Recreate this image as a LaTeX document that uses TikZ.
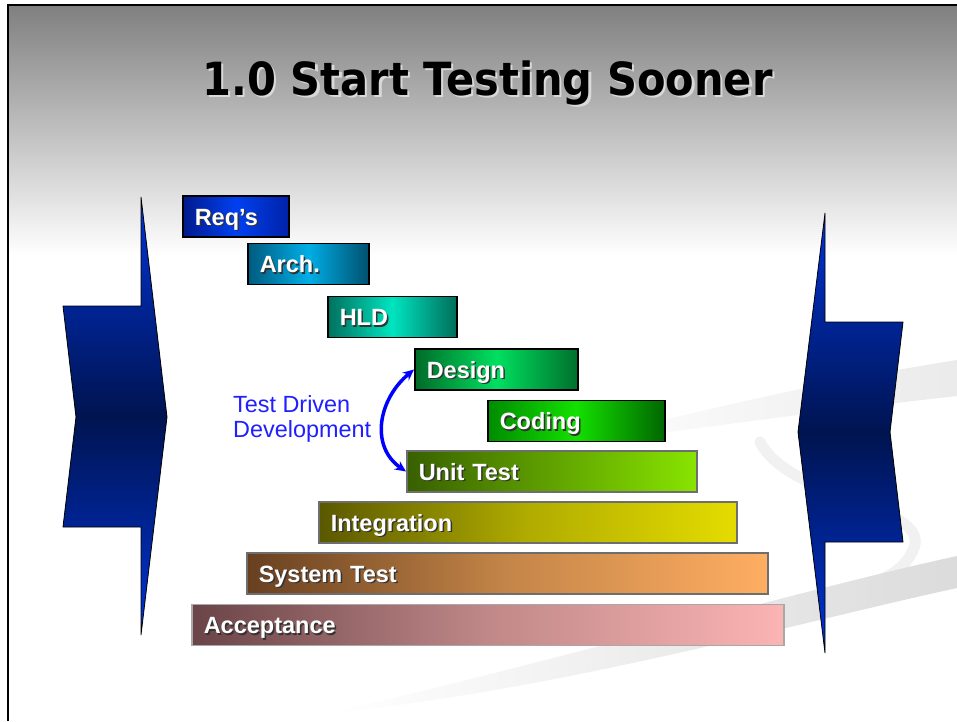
\documentclass[tikz,border=0pt]{standalone}
\usepackage{fontspec}
\setmainfont{Liberation Sans}
\newfontfamily\titlefont{DejaVu Sans}[FakeStretch=0.91]
\usetikzlibrary{arrows.meta}

\definecolor{chevlight}{HTML}{0033D8}
\definecolor{chevdark}{HTML}{001450}
\definecolor{tddblue}{HTML}{1F1FFF}
\definecolor{tddarrow}{HTML}{0000FF}
\definecolor{darkrim}{HTML}{6E6E6E}
\definecolor{lightrim}{HTML}{A8A8A8}

% text with a drop shadow: #1 shadow colour, #2 offset, #3 text
\newcommand\shadowed[3]{\makebox[0pt][l]{\color{#1}\raisebox{-#2}{\hspace*{#2}#3}}#3}

\tikzset{%
  every phase/.style={
    draw,
    line width=1.5pt,
    anchor=west,
    minimum height=41pt,
    inner xsep=12pt,
    inner ysep=0pt,
    align=left,
    text height=17pt,
    text depth=0pt,
    text=white,
    font=\fontsize{23.5}{24}\selectfont\bfseries
  },
  phase req/.style={left color={rgb,255:red,0;green,26;blue,140}, right color={rgb,255:red,0;green,34;blue,168}, middle color={rgb,255:red,0;green,64;blue,240}},
  phase arch/.style={left color={rgb,255:red,0;green,90;blue,126}, right color={rgb,255:red,0;green,80;blue,110}, middle color={rgb,255:red,0;green,174;blue,230}},
  phase hld/.style={left color={rgb,255:red,0;green,112;blue,94}, right color={rgb,255:red,0;green,110;blue,90}, middle color={rgb,255:red,0;green,228;blue,192}},
  phase design/.style={left color={rgb,255:red,0;green,106;blue,40}, right color={rgb,255:red,0;green,112;blue,44}, middle color={rgb,255:red,0;green,224;blue,96}},
  phase coding/.style={left color={rgb,255:red,0;green,140;blue,0}, right color={rgb,255:red,0;green,102;blue,0}, middle color={rgb,255:red,20;green,224;blue,0}},
  phase unittest/.style={draw=darkrim, left color={rgb,255:red,56;green,96;blue,0}, right color={rgb,255:red,136;green,228;blue,0}, middle color={rgb,255:red,96;green,162;blue,0}},
  phase integration/.style={draw=darkrim, left color={rgb,255:red,90;green,88;blue,0}, right color={rgb,255:red,228;green,220;blue,0}, middle color={rgb,255:red,176;green,172;blue,0}},
  phase systest/.style={draw=darkrim, left color={rgb,255:red,104;green,64;blue,32}, right color={rgb,255:red,255;green,174;blue,98}, middle color={rgb,255:red,196;green,133;blue,72}},
  phase accept/.style={draw=lightrim, left color={rgb,255:red,106;green,68;blue,72}, right color={rgb,255:red,252;green,180;blue,180}, middle color={rgb,255:red,192;green,136;blue,136}},
  chevron/.style={
    draw=black,
    line width=0.8pt,
    line join=miter,
    top color=chevlight,
    bottom color=chevlight,
    middle color=chevdark
  },
  swoosh/.style={draw=none, left color=white},
  titletext/.style={anchor=base, text=black, font=\titlefont\fontsize{45.7}{46}\selectfont\bfseries},
  tddtext/.style={anchor=west, align=left, text=tddblue, inner sep=0pt, font=\fontsize{23.4}{25.3}\selectfont},
}

\begin{document}
\begin{tikzpicture}[x=1pt, y=-1pt, >={Stealth[length=11pt,width=10pt]}]

\useasboundingbox (0,0) rectangle (957,721);
\fill [white] (0,0) rectangle (957,721);
\shade [top color=black!50, bottom color=white] (8,5) rectangle (957,255);

% background swirls
\shade [swoosh, right color=gray!16] (560,446) .. controls (700,410) and (830,380) .. (957,360)
  -- (957,396) .. controls (830,410) and (700,428) .. cycle;
\draw [gray!11, line width=11pt, line cap=round] (760,442) .. controls (790,500) and (930,505) .. (914,548)
  .. controls (905,570) and (885,580) .. (862,586);
\shade [swoosh, right color=gray!28] (330,713) .. controls (560,660) and (800,590) .. (957,556)
  -- (957,588) .. controls (800,622) and (560,690) .. cycle;

\draw [line width=2.7pt] (8,721) -- (8,5) -- (957,5);

\node [titletext] (title) at (487.5,95) {\shadowed{gray!30}{2.5pt}{1.0 Start Testing Sooner}};

% left and right chevrons
\draw [chevron] (141,197) -- (167,417) -- (141,635) -- (141,527) -- (63,527)
  -- (76,417) -- (63,306) -- (141,306) -- cycle;
\draw [chevron] (825,213) -- (825,322) -- (903,322) -- (890,432) -- (903,542)
  -- (825,542) -- (825,653) -- (798,432) -- cycle;

\foreach \m/\l/\x/\y/\w in {req/Req’s/182/216.5/106, arch/Arch./247/264/121,
    hld/HLD/327/317/129, design/Design/414/369.5/163, coding/Coding/487/421/177,
    unittest/Unit Test/406/471.5/290, integration/Integration/318/522.5/418,
    systest/System Test/246/573.5/521, accept/Acceptance/191/625/592}
  \node [every phase/.try, phase \m/.try, text width=\w pt-24pt] (\m) at (\x,\y)
    {\shadowed{black!80}{1.5pt}{\l}};

\node [tddtext] (tdd) at (233,419) {Test Driven\\Development};

\draw [<->, tddarrow, line width=3.5pt] (unittest.west)
  .. controls +(-36,-25) and +(-36,30) .. (design.west);

\end{tikzpicture}
\end{document}
